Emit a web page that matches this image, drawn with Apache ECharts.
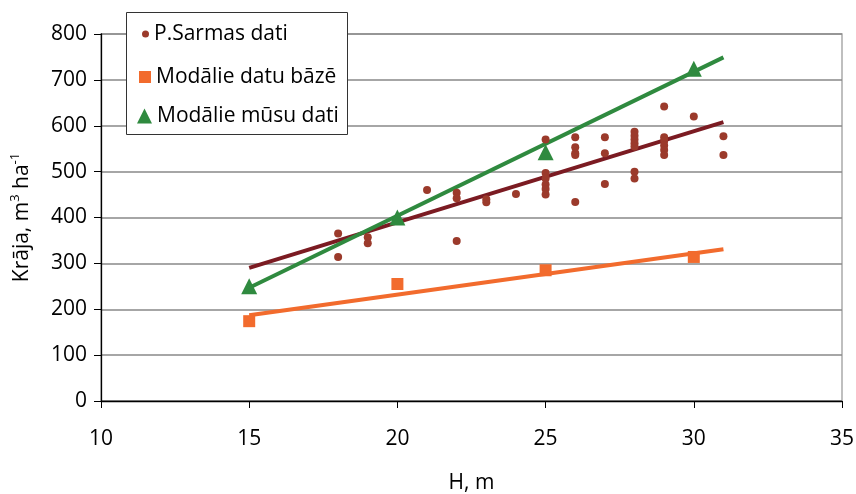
<!DOCTYPE html>
<html>
<head>
<meta charset="utf-8">
<script src="https://cdn.jsdelivr.net/npm/echarts@6/dist/echarts.min.js"></script>
<style>html,body{margin:0;padding:0;background:#fff}#c{width:856px;height:494px}</style>
</head>
<body>
<div id="c"></div>
<script>
// P.Sarmas dati (H, m ; Krāja)
const sarmasH = [18, 18, 19, 19, 21, 22, 22, 22, 23, 23, 24,
  25, 25, 25, 25, 25, 25,
  26, 26, 26, 26, 26,
  27, 27, 27,
  28, 28, 28, 28, 28, 28, 28,
  29, 29, 29, 29, 29, 29,
  30, 31, 31];
const sarmasV = [365, 314, 357, 344, 460, 454, 442, 349, 440, 433, 451,
  570, 497, 485, 472, 462, 450,
  575, 553, 540, 536, 434,
  575, 540, 473,
  587, 578, 570, 562, 555, 500, 485,
  642, 575, 567, 557, 547, 536,
  620, 577, 536];
// Modālie datu bāzē
const bazeH = [15, 20, 25, 30];
const bazeV = [174, 255, 285, 314];
// Modālie mūsu dati
const musuH = [15, 20, 25, 30];
const musuV = [250, 400, 542, 724];
// trend lines (endpoints)
const trendH = [15, 31];
const sarmasTrend = [290, 608];
const bazeTrend = [187, 331];
const musuTrend = [247, 749];
// axis ticks
const xTicks = [10, 15, 20, 25, 30, 35];
const yTicks = [0, 100, 200, 300, 400, 500, 600, 700, 800];

const zip = (a, b) => a.map((v, i) => [v, b[i]]);
const FONT = 'Open Sans';
const FS = 21;
const chart = echarts.init(document.getElementById('c'), null, {renderer: 'canvas'});

const legendBase = {
  orient: 'vertical', padding: 0, itemGap: 0, z: 10,
  textStyle: {fontFamily: FONT, fontSize: FS, color: '#000', lineHeight: 26}
};

chart.setOption({
  animation: false,
  backgroundColor: '#fff',
  textStyle: {fontFamily: FONT},
  grid: {left: 101, right: 14, top: 34, bottom: 93, containLabel: false, outerBoundsMode: 'none',
    show: true, borderColor: '#aaaaaa', borderWidth: 1.5, backgroundColor: 'transparent'},
  graphic: [{
    type: 'rect', z: 8, left: 126, top: 12,
    shape: {width: 221, height: 122},
    style: {fill: '#fff', stroke: '#333', lineWidth: 1}
  }],
  legend: [
    Object.assign({}, legendBase, {data: [{name: 'P.Sarmas dati', icon: 'circle'}], left: 142, top: 21, itemWidth: 7, itemHeight: 7}),
    Object.assign({}, legendBase, {data: [{name: 'Modālie datu bāzē', icon: 'rect'}], left: 139, top: 64, itemWidth: 12, itemHeight: 12}),
    Object.assign({}, legendBase, {data: [{name: 'Modālie mūsu dati', icon: 'triangle'}], left: 137, top: 103, itemWidth: 15, itemHeight: 15})
  ],
  xAxis: {
    type: 'value', min: xTicks[0], max: xTicks[xTicks.length - 1], interval: 5,
    name: 'H, m', nameLocation: 'middle', nameGap: 72,
    nameTextStyle: {fontFamily: FONT, fontSize: FS, color: '#000'},
    axisLine: {show: true, lineStyle: {color: '#000', width: 1.3}},
    axisTick: {show: true, length: 7, lineStyle: {color: '#000'}},
    axisLabel: {margin: 28, fontFamily: FONT, fontSize: FS, color: '#000'},
    splitLine: {show: false}
  },
  yAxis: {
    type: 'value', min: yTicks[0], max: yTicks[yTicks.length - 1], interval: 100,
    name: 'Krāja, m{sup|3} ha{sup|-1}', nameLocation: 'middle', nameGap: 66, nameRotate: 90,
    nameTextStyle: {fontFamily: FONT, fontSize: FS, color: '#000', lineHeight: 26,
      rich: {sup: {fontFamily: FONT, fontSize: 13, color: '#000', verticalAlign: 'top', lineHeight: 26, padding: [0, 0, 10, 0]}}},
    axisLine: {show: true, lineStyle: {color: '#000', width: 1.3}},
    axisTick: {show: true, length: 7, lineStyle: {color: '#000'}},
    axisLabel: {margin: 14, fontFamily: FONT, fontSize: FS, color: '#000'},
    splitLine: {show: true, lineStyle: {color: '#888', width: 1.5}}
  },
  series: [
    {name: 'P.Sarmas trend', type: 'line', data: zip(trendH, sarmasTrend), showSymbol: false, silent: true, z: 2,
      lineStyle: {color: '#7b1b22', width: 4}, itemStyle: {color: '#7b1b22'}},
    {name: 'Modālie datu trend', type: 'line', data: zip(trendH, bazeTrend), showSymbol: false, silent: true, z: 2,
      lineStyle: {color: '#f26b2d', width: 4}, itemStyle: {color: '#f26b2d'}},
    {name: 'Modālie mūsu trend', type: 'line', data: zip(trendH, musuTrend), showSymbol: false, silent: true, z: 2,
      lineStyle: {color: '#2f8a3f', width: 4}, itemStyle: {color: '#2f8a3f'}},
    {name: 'P.Sarmas dati', type: 'scatter', data: zip(sarmasH, sarmasV), symbol: 'circle', symbolSize: 8, z: 3,
      itemStyle: {color: '#9b3a2b', opacity: 1}},
    {name: 'Modālie datu bāzē', type: 'scatter', data: zip(bazeH, bazeV), symbol: 'rect', symbolSize: 12, z: 4,
      itemStyle: {color: '#f26b2d', opacity: 1}},
    {name: 'Modālie mūsu dati', type: 'scatter', data: zip(musuH, musuV), symbol: 'triangle', symbolSize: 16, z: 4,
      itemStyle: {color: '#2f8a3f', opacity: 1}}
  ]
});
</script>
</body>
</html>
